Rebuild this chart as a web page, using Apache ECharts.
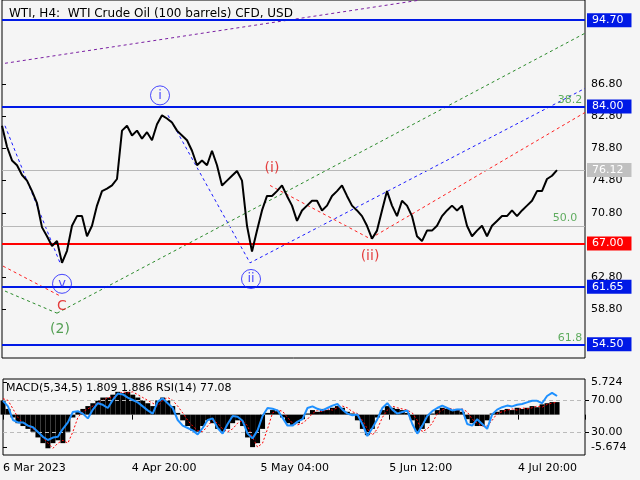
<!DOCTYPE html>
<html><head><meta charset="utf-8">
<script src="https://cdn.jsdelivr.net/npm/echarts@6/dist/echarts.min.js"></script>
<style>html,body{margin:0;background:#f5f5f5}#c{width:640px;height:480px}</style>
</head><body><div id="c"></div>
<script>
const title = 'WTI, H4:  WTI Crude Oil (100 barrels) CFD, USD';
const dateLabels = ['6 Mar 2023','4 Apr 20:00','5 May 04:00','5 Jun 12:00','4 Jul 20:00'];
const priceTicks = [58.8,62.8,70.8,74.8,78.8,82.8,86.8];
const price = [81.6,79.0,77.3,76.7,75.5,74.8,73.5,72.0,69.0,67.9,66.7,67.3,64.6,66.1,69.2,70.4,70.4,67.9,69.2,71.7,73.5,73.8,74.2,75.0,81.0,81.6,80.4,81.0,80.0,80.8,79.8,81.8,82.9,82.5,82.0,81.0,80.4,79.8,78.5,76.7,77.3,76.7,78.5,76.7,74.2,74.8,75.4,76.0,74.8,69.2,66.0,68.6,71.1,72.9,72.9,73.5,74.2,72.9,71.7,69.8,71.1,71.7,72.3,72.3,71.1,71.7,72.9,73.5,74.2,72.9,71.7,71.1,70.4,69.2,67.6,68.6,71.1,73.5,71.7,70.4,72.3,71.7,70.4,67.9,67.3,68.6,68.6,69.2,70.4,71.1,71.7,71.1,71.7,69.2,67.9,68.6,69.2,67.9,69.2,69.8,70.4,70.4,71.1,70.4,71.1,71.7,72.3,73.5,73.5,75.0,75.4,76.1];
const macd = [2.5,1.0,-0.5,-1.5,-2.0,-2.5,-3.0,-4.0,-5.0,-5.9,-5.0,-4.5,-5.0,-3.0,-0.5,0.5,1.0,1.5,2.0,2.5,3.0,3.0,3.5,4.0,3.8,4.0,3.5,3.0,2.5,2.0,1.5,2.5,3.0,2.5,1.5,0.3,-1.0,-2.0,-2.8,-3.0,-2.0,-1.0,-1.5,-2.5,-3.0,-2.5,-1.5,-1.0,-2.0,-4.0,-5.7,-5.0,-2.5,0.3,0.8,0.6,-0.5,-1.5,-1.8,-1.5,-0.8,0.2,0.8,0.5,1.0,0.8,1.2,1.5,1.2,0.5,0.2,-1.0,-2.5,-3.6,-2.5,-0.5,0.8,1.5,1.2,1.0,0.8,0.3,-1.0,-3.0,-2.5,-1.5,0.2,0.8,1.2,1.0,0.8,1.0,0.5,-0.8,-1.5,-2.0,-2.0,-1.0,0.2,0.5,0.8,1.0,0.8,1.2,1.0,1.2,1.5,1.3,1.8,2.0,2.2,2.2];
const signal = [2.8,2.5,1.0,-0.5,-1.5,-2.0,-2.5,-3.0,-4.0,-5.0,-5.9,-5.0,-4.5,-5.0,-3.0,-0.5,0.5,1.0,1.5,2.0,2.5,3.0,3.0,3.5,4.0,3.8,4.0,3.5,3.0,2.5,2.0,1.5,2.5,3.0,2.5,1.5,0.3,-1.0,-2.0,-2.8,-3.0,-2.0,-1.0,-1.5,-2.5,-3.0,-2.5,-1.5,-1.0,-2.0,-4.0,-5.7,-5.0,-2.5,0.3,0.8,0.6,-0.5,-1.5,-1.8,-1.5,-0.8,0.2,0.8,0.5,1.0,0.8,1.2,1.5,1.2,0.5,0.2,-1.0,-2.5,-3.6,-2.5,-0.5,0.8,1.5,1.2,1.0,0.8,0.3,-1.0,-3.0,-2.5,-1.5,0.2,0.8,1.2,1.0,0.8,1.0,0.5,-0.8,-1.5,-2.0,-2.0,-1.0,0.2,0.5,0.8,1.0,0.8,1.2,1.0,1.2,1.5,1.3,1.8,2.0,2.2];
const rsi = [69,62,45,42,42,38,36,30,24,20,23,24,34,42,55,56,53,47,58,66,64,60,70,78,77,73,70,67,62,57,53,68,72,66,60,45,38,35,32,27,35,45,47,35,28,40,50,49,44,28,22,32,50,60,59,57,48,38,38,43,46,60,62,59,57,60,63,65,58,53,51,52,40,25,35,46,60,66,58,53,55,57,40,28,38,50,56,60,63,60,57,58,58,40,38,46,40,34,52,58,61,63,62,64,65,67,69,69,66,75,79,75];
const purpleLine = [[0.6,89.35],[83.6,97.19]];
const greenLong = [[11,58.36],[116.6,93.08]];
const greenShort = [[0.6,61.1],[11,58.36]];
const blueA = [[0.6,81.6],[11.6,64.6]];
const blueB = [[33.2,82.9],[49.6,64.6],[116.6,86.24]];
const redA = [[0.2,64.2],[11.6,60.5]];
const redB = [[53.6,74.2],[73.6,67.6],[116.6,83.25]];
const circleMarks = [['i',31.6,85.37],['v',12,62.0],['ii',49.8,62.6],['',-0.4,81.6]];
const redMarks = [['(i)',54,76.3],['(ii)',73.6,65.45],['C',12,59.2]];
const greenMarks = [['(2)',11.6,56.4]];
const fibMarks = [['38.2',113.6,84.74],['50.0',112.6,70.2],['61.8',113.6,55.25]];
const levels = [[94.70,'#0019e6'],[84.00,'#0019e6'],[67.00,'#ff0000'],[61.65,'#0019e6'],[54.50,'#0019e6']];
const currentPrice = 76.12, fibMid = 69.2;

const F = 'DejaVu Sans';
const XMAX = 116.6, STEP = 25.8;
const pts = a => a.map((v,i)=>[i,v]);
const dashLine = (d,c,t) => ({type:'line',data:d,xAxisIndex:0,yAxisIndex:0,symbol:'none',silent:true,
  lineStyle:{color:c,width:1,type:t||[3,3]},z:3});
const textMarks = (arr,color,size) => ({type:'scatter',xAxisIndex:0,yAxisIndex:0,symbolSize:1,silent:true,
  itemStyle:{color:'rgba(0,0,0,0)'},data:arr.map(a=>({value:[a[1],a[2]],name:a[0]})),
  label:{show:true,formatter:p=>p.name,color:color,fontFamily:F,fontSize:size||14,position:'inside'},z:6});
const boxLabel = (txt,bg) => ({position:'end',distance:2,formatter:txt,color:'#fff',backgroundColor:bg,
  padding:[2,8,1,5],fontFamily:F,fontSize:11});

const series = [
  dashLine(purpleLine,'#7a1fa2'),
  dashLine(greenLong,'#2a8a2a'),
  dashLine(greenShort,'#2a8a2a'),
  dashLine(blueA,'#1a1aff'),
  dashLine(blueB,'#1a1aff'),
  dashLine(redA,'#ff2020'),
  dashLine(redB,'#ff2020'),
  {type:'line',data:pts(price),xAxisIndex:0,yAxisIndex:0,symbol:'none',lineStyle:{color:'#000',width:2},z:5,
    markLine:{symbol:'none',silent:true,animation:false,
      data:[
        {yAxis:fibMid,lineStyle:{color:'#b8b8b8',width:1,type:'solid'},label:{show:false}},
        {yAxis:currentPrice,lineStyle:{color:'#b8b8b8',width:1,type:'solid'},label:boxLabel('76.12','#c0c0c0')}
      ].concat(levels.map(l=>({yAxis:l[0],lineStyle:{color:l[1],width:2,type:'solid'},
          label:boxLabel(l[0].toFixed(2),l[1])})))}},
  {type:'scatter',xAxisIndex:0,yAxisIndex:0,silent:true,symbol:'circle',symbolSize:19,
    itemStyle:{color:'rgba(0,0,0,0)',borderColor:'#1a1aff',borderWidth:1},
    data:circleMarks.map(a=>({value:[a[1],a[2]],name:a[0]})),
    label:{show:true,formatter:p=>p.name,color:'#1a1aff',fontFamily:F,fontSize:13,position:'inside'},z:6},
  textMarks(redMarks,'#e01010',14),
  textMarks(greenMarks,'#2a8a2a',14),
  textMarks(fibMarks,'#3a9a3a',11),
  {type:'bar',data:pts(macd),xAxisIndex:1,yAxisIndex:1,barWidth:5,itemStyle:{color:'#000'},silent:true},
  {type:'line',data:pts(signal),xAxisIndex:1,yAxisIndex:1,symbol:'none',lineStyle:{color:'#ff0000',width:1,type:[2,2]},silent:true,z:4},
  {type:'line',data:pts(rsi),xAxisIndex:1,yAxisIndex:2,symbol:'none',lineStyle:{color:'#1e90ff',width:2},silent:true,z:5,
    markLine:{symbol:'none',silent:true,label:{show:false},lineStyle:{color:'#bbb',type:[4,3],width:1},data:[{yAxis:70},{yAxis:30}]}}
];

const chart = echarts.init(document.getElementById('c'));
chart.setOption({
  backgroundColor:'#f5f5f5', animation:false,
  title:{text:title,left:4,top:3,textStyle:{fontFamily:F,fontSize:12,fontWeight:'normal',color:'#000'}},
  grid:[{left:2,right:55,top:0,bottom:122,show:true,borderColor:'#000',borderWidth:1,backgroundColor:'#f5f5f5'},
        {left:2,right:55,top:379,bottom:25,show:true,borderColor:'#000',borderWidth:1}],
  xAxis:[{type:'value',gridIndex:0,min:0,max:XMAX,show:false},
         {type:'value',gridIndex:1,min:0,max:XMAX,interval:STEP,axisLine:{show:false},splitLine:{show:false},
          axisTick:{show:true,length:5,lineStyle:{color:'#000'}},
          axisLabel:{color:'#000',fontFamily:F,fontSize:11,align:'left',margin:8,
            formatter:v=>dateLabels[Math.round(v/STEP)]||''}}],
  yAxis:[{type:'value',gridIndex:0,position:'right',min:52.8,max:97.2,splitLine:{show:false},axisLine:{show:false},
          axisTick:{show:true,customValues:priceTicks,length:4,lineStyle:{color:'#000'}},
          axisLabel:{customValues:priceTicks,formatter:v=>v.toFixed(2),color:'#000',fontFamily:F,fontSize:11,margin:6}},
         {type:'value',gridIndex:1,position:'right',min:-7.08,max:6.25,splitLine:{show:false},axisLine:{show:false},
          axisTick:{show:true,customValues:[5.724,-5.674],length:4,lineStyle:{color:'#000'}},
          axisLabel:{customValues:[5.724,-5.674],formatter:v=>v.toFixed(3),color:'#000',fontFamily:F,fontSize:11,margin:6}},
         {type:'value',gridIndex:1,position:'right',min:1.25,max:96.25,splitLine:{show:false},axisLine:{show:false},
          axisTick:{show:true,customValues:[70,30],length:4,lineStyle:{color:'#000'}},
          axisLabel:{customValues:[70,30],formatter:v=>v.toFixed(2),color:'#000',fontFamily:F,fontSize:11,margin:6}}],
  graphic:[{type:'text',left:6,top:383,style:{text:'MACD(5,34,5) 1.809 1.886 RSI(14) 77.08',font:'11px "DejaVu Sans"',fill:'#000'},z:10}],
  series:series
});
</script></body></html>
